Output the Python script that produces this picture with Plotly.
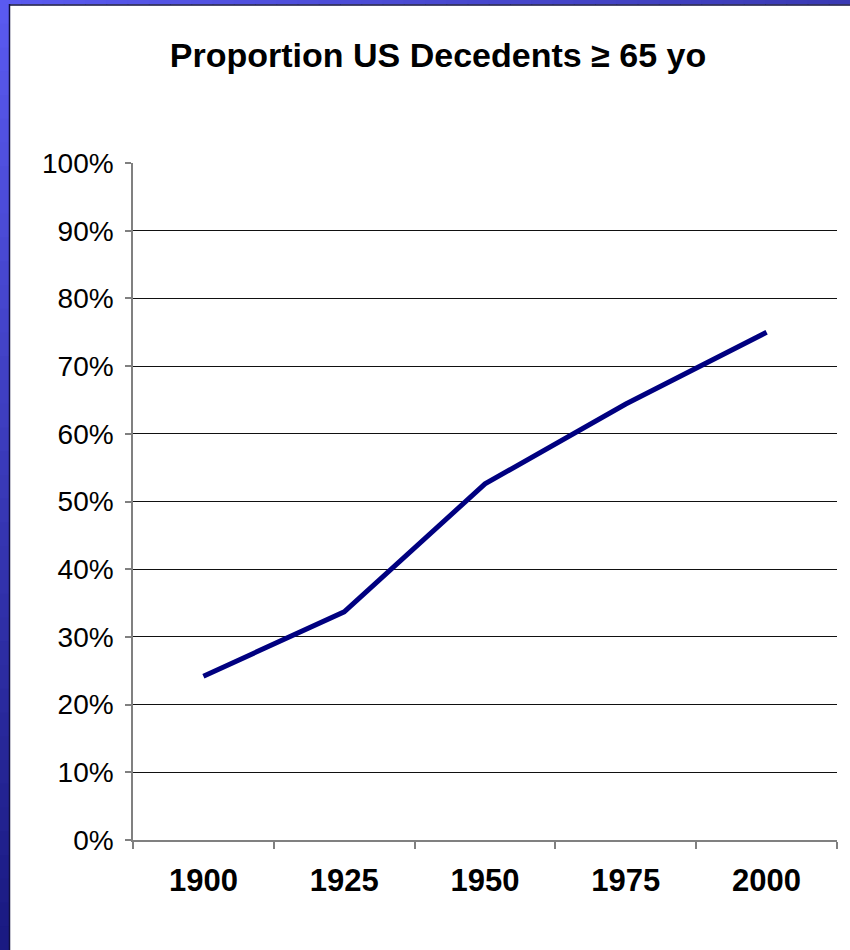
import plotly.graph_objects as go

years = ["1900", "1925", "1950", "1975", "2000"]
share_65plus = [24.2, 33.7, 52.6, 64.4, 75.0]
y_ticks = [0, 10, 20, 30, 40, 50, 60, 70, 80, 90, 100]
y_tick_labels = [f"{v}%" for v in y_ticks]
grid_values = [10, 20, 30, 40, 50, 60, 70, 80, 90]
title_text = "Proportion US Decedents \u2265 65 yo"

W, H = 850, 950
ML, MR, MT, MB = 133, 13, 163, 110
PW, PH = W - ML - MR, H - MT - MB


def px_x(p):
    return (p - ML) / PW


def px_y(p):
    return (H - MB - p) / PH


fig = go.Figure()
fig.add_trace(go.Scatter(
    x=years, y=share_65plus, mode="lines",
    line=dict(color="#000080", width=5),
    hoverinfo="skip", showlegend=False,
))
fig.add_trace(go.Scatter(x=years, y=share_65plus, yaxis="y2", mode="lines",
                         line=dict(width=0), opacity=0, showlegend=False,
                         hoverinfo="skip"))

shapes = []
n = 40
top_c = (90, 90, 240)
bot_c = (26, 26, 130)
for i in range(n):
    t = i / (n - 1)
    c = tuple(int(top_c[k] + (bot_c[k] - top_c[k]) * t) for k in range(3))
    y0p = H * i / n
    y1p = H * (i + 1) / n + 1
    shapes.append(dict(type="rect", xref="paper", yref="paper",
                       x0=px_x(0), x1=px_x(9), y0=px_y(y1p), y1=px_y(y0p),
                       fillcolor=f"rgb{c}", line=dict(width=0), layer="below"))
right_c = (58, 58, 180)
for i in range(n):
    t = i / (n - 1)
    c = tuple(int(top_c[k] + (right_c[k] - top_c[k]) * t) for k in range(3))
    x0p = W * i / n
    x1p = W * (i + 1) / n + 1
    shapes.append(dict(type="rect", xref="paper", yref="paper",
                       x0=px_x(max(x0p, 0)), x1=px_x(x1p), y0=px_y(4.5), y1=px_y(0),
                       fillcolor=f"rgb{c}", line=dict(width=0), layer="below"))
shapes.append(dict(type="line", xref="paper", yref="paper",
                   x0=px_x(9.5), x1=px_x(9.5), y0=px_y(H), y1=px_y(4),
                   line=dict(color="#101040", width=1.5)))
shapes.append(dict(type="line", xref="paper", yref="paper",
                   x0=px_x(9), x1=px_x(W), y0=px_y(5), y1=px_y(5),
                   line=dict(color="#101040", width=1.5)))

FONT = "Liberation Sans, Arial, sans-serif"

fig.update_layout(
    width=W, height=H,
    margin=dict(l=ML, r=MR, t=MT, b=MB, pad=0),
    paper_bgcolor="white", plot_bgcolor="white",
    font=dict(family=FONT, color="black"),
    title=dict(text=f"<b>{title_text}</b>", x=438 / W, xanchor="center",
               y=1 - 55 / H, yanchor="middle",
               font=dict(size=34, family=FONT, color="black")),
    xaxis=dict(
        type="category", tickson="boundaries", ticks="outside", ticklen=7,
        tickcolor="#808080", tickwidth=1.5, showline=True, linecolor="#808080",
        linewidth=1.5, showgrid=False, zeroline=False,
        tickfont=dict(size=31, family=FONT),
        tickvals=years, ticktext=[f"<b>{y}</b>" for y in years],
        range=[-0.5, len(years) - 0.5],
        ticklabelstandoff=12,
    ),
    yaxis=dict(
        range=[0, 100], tickvals=y_ticks, ticktext=y_tick_labels,
        ticks="outside", ticklen=6, tickcolor="#808080", tickwidth=1.5,
        showline=True, linecolor="#808080", linewidth=1.5,
        showgrid=False, zeroline=False,
        tickfont=dict(size=28, family=FONT),
        ticklabelstandoff=6,
    ),
    yaxis2=dict(
        range=[0, 100], overlaying="y", tickvals=grid_values, showgrid=True,
        gridcolor="#111111", gridwidth=1, showticklabels=False, ticks="",
        showline=False, zeroline=False,
    ),
    shapes=shapes,
    showlegend=False,
)

fig.write_html("out.html")
